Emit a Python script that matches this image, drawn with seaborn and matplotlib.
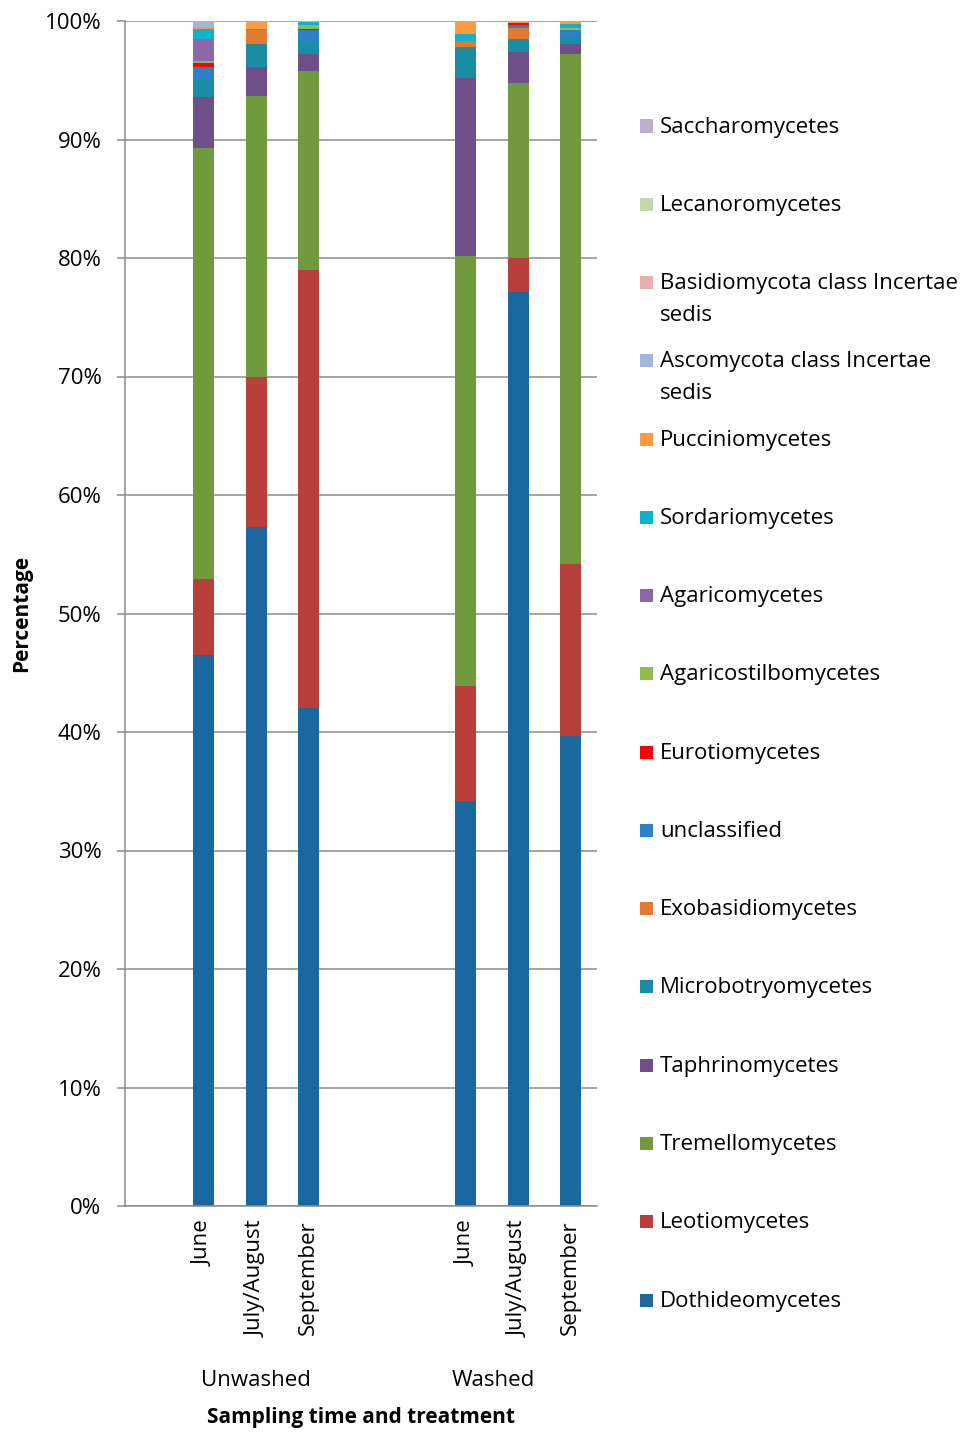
import numpy as np
import pandas as pd
import matplotlib
matplotlib.use("Agg")
import matplotlib.pyplot as plt
from matplotlib.patches import Rectangle
from matplotlib.ticker import PercentFormatter
import seaborn as sns

# Samples: three sampling times for unwashed and washed leaves
sample_labels = ["June", "July/August", "September", "June", "July/August", "September"]
sample_pos = [0, 1, 2, 5, 6, 7]
treatments = ["Unwashed", "Washed"]

# Relative abundance (%) of each fungal class, stacked bottom to top
dothideomycetes = [46.5, 57.3, 42.0, 34.2, 77.1, 39.7]
leotiomycetes = [6.4, 12.7, 37.0, 9.7, 2.9, 14.5]
tremellomycetes = [36.4, 23.7, 16.8, 36.3, 14.8, 43.0]
taphrinomycetes = [4.3, 2.4, 1.4, 15.0, 2.6, 0.9]
microbotryomycetes = [1.45, 2.0, 1.0, 2.6, 1.1, 0.55]
exobasidiomycetes = [0.0, 1.1, 0.0, 0.55, 0.9, 0.0]
unclassified = [1.1, 0.0, 1.0, 0.0, 0.25, 0.6]
eurotiomycetes = [0.3, 0.0, 0.1, 0.0, 0.15, 0.0]
agaricostilbomycetes = [0.2, 0.0, 0.35, 0.0, 0.0, 0.2]
agaricomycetes = [1.8, 0.0, 0.0, 0.0, 0.0, 0.0]
sordariomycetes = [0.85, 0.15, 0.3, 0.55, 0.0, 0.3]
pucciniomycetes = [0.2, 0.65, 0.0, 1.1, 0.2, 0.25]
ascomycota_incertae = [0.5, 0.0, 0.05, 0.0, 0.0, 0.0]
basidiomycota_incertae = [0.0, 0.0, 0.0, 0.0, 0.0, 0.0]
lecanoromycetes = [0.0, 0.0, 0.0, 0.0, 0.0, 0.0]
saccharomycetes = [0.0, 0.0, 0.0, 0.0, 0.0, 0.0]

class_names = [
    "Dothideomycetes", "Leotiomycetes", "Tremellomycetes", "Taphrinomycetes",
    "Microbotryomycetes", "Exobasidiomycetes", "unclassified", "Eurotiomycetes",
    "Agaricostilbomycetes", "Agaricomycetes", "Sordariomycetes", "Pucciniomycetes",
    "Ascomycota class Incertae\nsedis", "Basidiomycota class Incertae\nsedis",
    "Lecanoromycetes", "Saccharomycetes",
]
class_values = [
    dothideomycetes, leotiomycetes, tremellomycetes, taphrinomycetes,
    microbotryomycetes, exobasidiomycetes, unclassified, eurotiomycetes,
    agaricostilbomycetes, agaricomycetes, sordariomycetes, pucciniomycetes,
    ascomycota_incertae, basidiomycota_incertae, lecanoromycetes, saccharomycetes,
]
class_colors = [
    "#1B68A0", "#B8403C", "#71993E", "#6F4F87",
    "#1A8CA3", "#E07B30", "#2C80C6", "#FF0000",
    "#90BC4F", "#8C68A9", "#0EB2CD", "#FD9B40",
    "#A2B7DA", "#E8AFAE", "#C3D7A8", "#BCAFD1",
]

sns.set_theme(style="white")
plt.rcParams["font.family"] = ["Open Sans", "DejaVu Sans"]

W, H = 968, 1434
fig = plt.figure(figsize=(W / 100, H / 100), dpi=100)
ax = fig.add_axes([125 / W, 1 - 1206 / H, (597 - 125) / W, (1206 - 21) / H])

# cumulative tops, drawn from the top layer down so lower layers overlay
df = pd.DataFrame({"pos": sample_pos})
cum = np.cumsum(np.array(class_values, dtype=float), axis=0)
for k in range(len(class_names) - 1, -1, -1):
    df["top"] = cum[k]
    sns.barplot(data=df, x="pos", y="top", native_scale=True, width=0.4,
                color=class_colors[k], saturation=1, errorbar=None,
                linewidth=0, ax=ax)

grid_c = "#8C8C8C"
txt_c = "black"
ax.set_xlim(-1.5, 7.5)
ax.set_ylim(0, 100)
ax.set_yticks(np.arange(0, 101, 10))
ax.yaxis.set_major_formatter(PercentFormatter(decimals=0))
ax.yaxis.grid(True, color=grid_c, linewidth=1.1)
ax.set_axisbelow(True)
for s in ["top", "right"]:
    ax.spines[s].set_visible(False)
ax.spines["left"].set_color(grid_c)
ax.spines["left"].set_linewidth(1.1)
ax.spines["bottom"].set_color(grid_c)
ax.spines["bottom"].set_linewidth(1.1)
ax.tick_params(axis="y", left=True, length=6, width=1.1, color=grid_c,
               pad=11, labelsize=16, labelcolor=txt_c)
ax.set_xticks(sample_pos)
ax.set_xticklabels(sample_labels, rotation=90, fontsize=16, color=txt_c)
ax.tick_params(axis="x", bottom=False, pad=4)
ax.set_xlabel("")
ax.set_ylabel("Percentage", fontsize=15, fontweight="bold", labelpad=9, color=txt_c)

# treatment group labels beneath the month labels
for name, xc in zip(treatments, [1.0, 5.52]):
    ax.annotate(name, xy=(xc, 1 - 1381 / H), xycoords=("data", "figure fraction"),
                ha="center", va="center", fontsize=16, color=txt_c)
fig.text(361 / W, 1 - 1418 / H, "Sampling time and treatment", ha="center",
         va="center", fontsize=15, fontweight="bold", color=txt_c)

# legend column, top of stack first
y0, step, sq = 127, 78.27, 13
for i, k in enumerate(range(len(class_names) - 1, -1, -1)):
    yc = y0 + i * step
    fig.add_artist(Rectangle((640 / W, 1 - (yc - 1 + sq / 2) / H), sq / W, sq / H,
                             transform=fig.transFigure, facecolor=class_colors[k],
                             edgecolor="none"))
    for j, line in enumerate(class_names[k].split("\n")):
        fig.text(660 / W, 1 - (yc + j * 32) / H, line, ha="left", va="center",
                 fontsize=16, color=txt_c)

fig.savefig("out.png", dpi=100)
